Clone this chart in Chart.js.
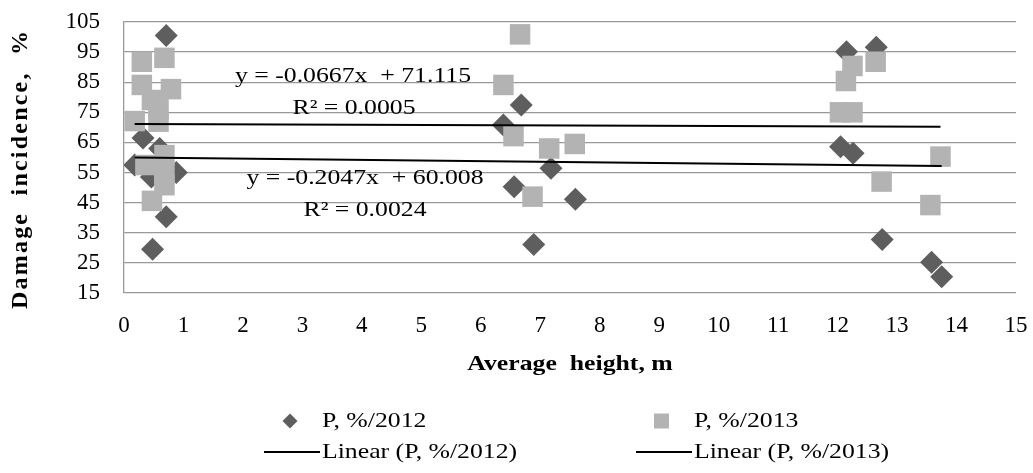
<!DOCTYPE html>
<html><head><meta charset="utf-8">
<script src="https://cdn.jsdelivr.net/npm/chart.js@4.4.1/dist/chart.umd.min.js"></script>
<style>html,body{margin:0;padding:0;background:#fff;}#wrap{width:1033px;height:473px;}</style>
</head><body><div id="wrap"><canvas id="c" width="1033" height="473"></canvas></div>
<script>
// ---- data ----
const seriesNames = ['P, %/2012', 'P, %/2013'];
const heights2012 = [0.71, 0.32, 0.60, 0.18, 0.88, 0.46, 0.71, 0.48,
  6.68, 6.38, 7.18, 6.56, 7.59, 6.89,
  12.15, 12.65, 12.05, 12.26, 12.75, 13.58, 13.75];
const incidence2012 = [100.5, 66.5, 63, 57.5, 55, 53.5, 40.3, 29.5,
  77.4, 70.8, 56.4, 50.3, 46.1, 31.1,
  95.1, 96.6, 63.6, 61.4, 32.8, 25.2, 20.4];
const heights2013 = [0.30, 0.68, 0.30, 0.79, 0.47, 0.58, 0.18, 0.58, 0.68, 0.36, 0.68, 0.68, 0.47,
  6.66, 6.38, 6.55, 7.15, 7.58, 6.87,
  12.25, 12.64, 12.14, 12.04, 12.25, 13.73, 12.74, 13.56];
const incidence2013 = [91.8, 93.1, 84.1, 82.7, 79.1, 76, 72.1, 71.9, 60.8, 57.5, 54.7, 50.8, 45.6,
  100.9, 84.1, 67.1, 63, 64.5, 47,
  90.4, 91.8, 85.4, 75, 75, 60.3, 52, 44.2];
const trendSlopes = [-0.2047, -0.0667];
const trendIntercepts = [60.008, 71.115];
const trendEquations = ['y = -0.2047x  + 60.008', 'y = -0.0667x  + 71.115'];
const trendR2 = ['R² = 0.0024', 'R² = 0.0005'];
const trendNames = ['Linear (P, %/2012)', 'Linear (P, %/2013)'];
const xTickLabels = ['0','1','2','3','4','5','6','7','8','9','10','11','12','13','14','15'];
const yTickLabels = ['15','25','35','45','55','65','75','85','95','105'];
const xTitle = 'Average  height, m';
const yTitle = 'Damage  incidence,  %';

// ---- build ----
const C2012 = '#5e5e5e', C2013 = '#b3b3b3';
function pts(xs, ys) { return xs.map((x, i) => ({x: x, y: ys[i]})); }
function trend(xs, k) {
  const lo = Math.min(...xs), hi = Math.max(...xs);
  return [lo, hi].map(x => ({x: x, y: trendSlopes[k] * x + trendIntercepts[k]}));
}
const SERIF = '"Liberation Serif", "Times New Roman", serif';
const SX = 1.17;

function drawText(ctx, text, x, y, o) {
  ctx.save();
  ctx.font = o.font;
  ctx.fillStyle = '#000';
  ctx.textBaseline = 'middle';
  ctx.textAlign = 'left';
  ctx.translate(x, y);
  if (o.rotate) ctx.rotate(o.rotate);
  let sp = 0;
  if (o.length) {
    const w0 = ctx.measureText(text).width;
    sp = (o.length - w0) / (text.length - 1);
    if ('letterSpacing' in ctx) ctx.letterSpacing = sp + 'px';
  }
  ctx.scale(o.sx || 1, 1);
  let w = ctx.measureText(text).width;
  if (o.length && 'letterSpacing' in ctx) w -= sp;
  const dx = o.align === 'center' ? -w / 2 : 0;
  ctx.fillText(text, dx, 0);
  ctx.restore();
}

const overlay = {
  id: 'overlay',
  afterDraw(chart) {
    const ctx = chart.ctx;
    const reg = '22px ' + SERIF, bold = 'bold 22px ' + SERIF;
    // axis titles
    drawText(ctx, yTitle, 21, 170, {font: 'bold 24px ' + SERIF, rotate: -Math.PI / 2, align: 'center', length: 278});
    const ca = chart.chartArea;
    drawText(ctx, xTitle, (ca.left + ca.right) / 2, 364, {font: bold, align: 'center', sx: SX});
    // equations
    drawText(ctx, trendEquations[1], 353, 76, {font: reg, align: 'center', sx: SX});
    drawText(ctx, trendR2[1], 354, 108, {font: reg, align: 'center', sx: SX});
    drawText(ctx, trendEquations[0], 365, 178, {font: reg, align: 'center', sx: SX});
    drawText(ctx, trendR2[0], 365, 210, {font: reg, align: 'center', sx: SX});
    // legend
    const r1 = 421, r2 = 452;
    ctx.save();
    ctx.fillStyle = C2012;
    ctx.beginPath();
    ctx.moveTo(290, r1 - 7.5); ctx.lineTo(297.5, r1); ctx.lineTo(290, r1 + 7.5); ctx.lineTo(282.5, r1);
    ctx.closePath(); ctx.fill();
    ctx.fillStyle = C2013;
    ctx.fillRect(654, r1 - 7.5, 15, 15);
    ctx.strokeStyle = '#000'; ctx.lineWidth = 2;
    ctx.beginPath(); ctx.moveTo(264, r2); ctx.lineTo(320, r2); ctx.stroke();
    ctx.beginPath(); ctx.moveTo(636, r2); ctx.lineTo(692, r2); ctx.stroke();
    ctx.restore();
    drawText(ctx, seriesNames[0], 322, r1, {font: reg, sx: SX});
    drawText(ctx, seriesNames[1], 694, r1, {font: reg, sx: SX});
    drawText(ctx, trendNames[0], 322, r2, {font: reg, sx: SX});
    drawText(ctx, trendNames[1], 694, r2, {font: reg, sx: SX});
  }
};

new Chart(document.getElementById('c'), {
  type: 'scatter',
  data: {
    datasets: [
      {label: trendNames[0], type: 'line', data: trend(heights2012, 0), borderColor: '#000', borderWidth: 2,
       pointRadius: 0, fill: false, order: 0},
      {label: trendNames[1], type: 'line', data: trend(heights2013, 1), borderColor: '#000', borderWidth: 2,
       pointRadius: 0, fill: false, order: 0},
      {label: seriesNames[1], data: pts(heights2013, incidence2013), pointStyle: 'rect', pointRadius: 14.5,
       backgroundColor: C2013, borderWidth: 0, order: 1},
      {label: seriesNames[0], data: pts(heights2012, incidence2012), pointStyle: 'rectRot', pointRadius: 11.5,
       backgroundColor: C2012, borderWidth: 0, order: 2}
    ]
  },
  options: {
    responsive: false,
    devicePixelRatio: 1,
    animation: false,
    layout: {padding: {left: 0, right: 17, top: 22, bottom: 0}},
    plugins: {legend: {display: false}, tooltip: {enabled: false}},
    scales: {
      x: {
        type: 'linear', min: 0, max: 15,
        afterBuildTicks: s => { s.ticks = xTickLabels.map(v => ({value: Number(v)})); },
        ticks: {color: '#000', font: {family: SERIF, size: 23}, padding: 19, maxRotation: 0, autoSkip: false,
                callback: v => xTickLabels[v]},
        grid: {display: false, drawTicks: false},
        border: {display: false},
        afterFit: s => { s.height = 180; s.paddingLeft = 0; s.paddingRight = 0; }
      },
      y: {
        type: 'linear', min: 15, max: 105,
        afterBuildTicks: s => { s.ticks = yTickLabels.map(v => ({value: Number(v)})); },
        ticks: {color: '#000', font: {family: SERIF, size: 23}, padding: 24, autoSkip: false,
                callback: v => String(v)},
        grid: {color: '#999', lineWidth: 1.3, drawTicks: false},
        border: {display: true, color: '#999', width: 1.3},
        afterFit: s => { s.width = 124; s.paddingTop = 0; s.paddingBottom = 0; }
      }
    }
  },
  plugins: [overlay]
});
</script></body></html>
